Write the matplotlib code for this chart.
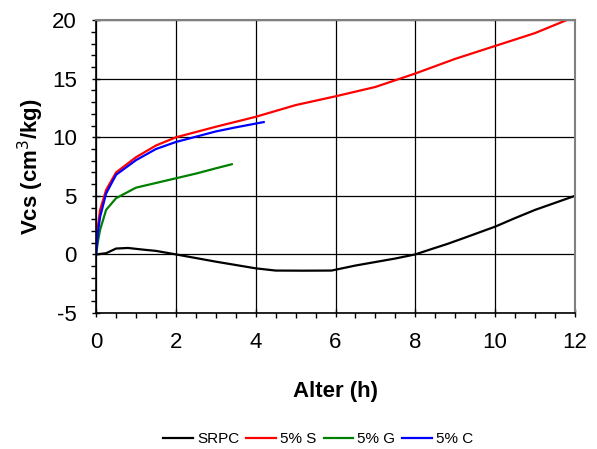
import numpy as np
import matplotlib.pyplot as plt
from matplotlib.ticker import MultipleLocator

plt.rcParams['font.family'] = ['Liberation Sans', 'DejaVu Sans']
plt.rcParams['axes.unicode_minus'] = False

# valores
x_srpc = [0, 0.25, 0.5, 0.8, 1.2, 1.5, 2, 3, 4, 4.5, 5.2, 5.9, 6.5, 7, 7.5, 8, 8.4, 8.8, 9.3, 10, 10.5, 11, 11.5, 12]
y_srpc = [0, 0.1, 0.5, 0.55, 0.4, 0.3, 0, -0.62, -1.19, -1.38, -1.39, -1.38, -0.95, -0.65, -0.35, 0, 0.45, 0.89, 1.5, 2.37, 3.1, 3.8, 4.4, 5.0]

x_s = [0, 0.05, 0.1, 0.25, 0.5, 1, 1.5, 2, 3, 4, 5, 6, 7, 8, 9, 10, 11, 12]
y_s = [1.0, 2.5, 3.8, 5.5, 7.0, 8.3, 9.3, 10.0, 10.9, 11.75, 12.75, 13.5, 14.3, 15.45, 16.7, 17.8, 18.9, 20.3]

x_g = [0, 0.05, 0.1, 0.25, 0.5, 1, 1.5, 2, 2.5, 3, 3.4]
y_g = [0, 1.2, 2.1, 3.8, 4.8, 5.7, 6.1, 6.5, 6.9, 7.35, 7.7]

x_c = [0, 0.05, 0.1, 0.25, 0.5, 1, 1.5, 2, 2.5, 3, 3.5, 4.2]
y_c = [0, 2.0, 3.2, 5.2, 6.8, 8.05, 9.0, 9.6, 10.05, 10.5, 10.85, 11.3]

fig = plt.figure(figsize=(5.97, 4.49), dpi=100)
ax = fig.add_axes([0.161, 0.303, 0.802, 0.652])

ax.plot(x_srpc, y_srpc, color='black', lw=1.6, label='SRPC')
ax.plot(x_s, y_s, color='#ff0000', lw=1.6, label='5% S')
ax.plot(x_g, y_g, color='#008000', lw=1.6, label='5% G')
ax.plot(x_c, y_c, color='#0000ff', lw=1.6, label='5% C')

ax.set_xlim(0, 12)
ax.set_ylim(-5, 20)
ax.xaxis.set_major_locator(MultipleLocator(2))
ax.xaxis.set_minor_locator(MultipleLocator(0.5))
ax.yaxis.set_major_locator(MultipleLocator(5))
ax.yaxis.set_minor_locator(MultipleLocator(1))
ax.tick_params(which='major', direction='inout', length=6, width=1, labelsize=16)
ax.tick_params(which='minor', direction='out', length=3.5, width=1)
ax.tick_params(axis='x', pad=11)
ax.tick_params(axis='y', pad=11)
ax.grid(True, which='major', color='black', lw=0.9)
ax.set_axisbelow(True)

for s in ['top', 'right']:
    ax.spines[s].set_color('#808080')
    ax.spines[s].set_linewidth(1.5)
for s in ['left', 'bottom']:
    ax.spines[s].set_linewidth(1.2)

ax.set_xlabel('Alter (h)', fontsize=16, fontweight='bold', labelpad=20)
ax.set_ylabel('Vcs (cm$^3$/kg)', fontsize=16, fontweight='bold', labelpad=4)

fig.legend(loc='center left', bbox_to_anchor=(163 / 597, 1 - 439 / 449), ncol=4,
           frameon=False, borderpad=0, borderaxespad=0,
           fontsize=11, handlelength=1.96, handletextpad=0.26, columnspacing=0.46)

plt.savefig('out.png')
